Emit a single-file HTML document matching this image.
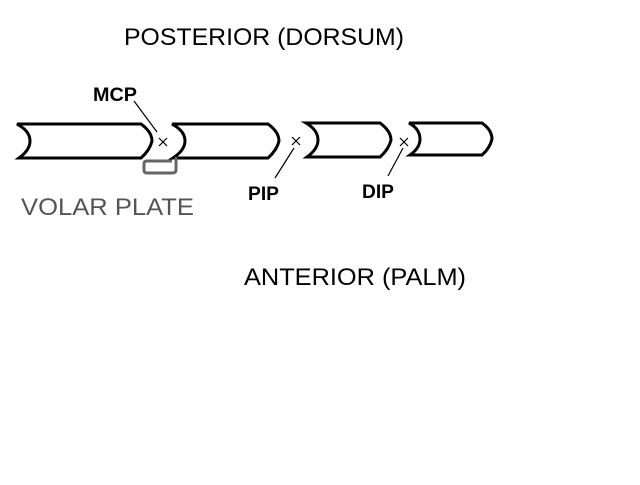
<!DOCTYPE html>
<html><head><style>
body{margin:0;width:640px;height:480px;background:#fff;overflow:hidden}
</style></head><body>
<svg width="640" height="480" xmlns="http://www.w3.org/2000/svg" font-family="Liberation Sans, Arial, sans-serif">
<rect width="640" height="480" fill="#fff"/>
<text x="124" y="45" font-size="24" textLength="280" lengthAdjust="spacingAndGlyphs">POSTERIOR (DORSUM)</text>
<text x="244" y="285" font-size="24" textLength="222" lengthAdjust="spacingAndGlyphs">ANTERIOR (PALM)</text>
<text x="21" y="215" font-size="24" fill="#555" textLength="173" lengthAdjust="spacingAndGlyphs">VOLAR PLATE</text>
<text x="93" y="101" font-size="19" font-weight="bold" textLength="44" lengthAdjust="spacingAndGlyphs">MCP</text>
<text x="248" y="200" font-size="19" font-weight="bold" textLength="31" lengthAdjust="spacingAndGlyphs">PIP</text>
<text x="362" y="198" font-size="19" font-weight="bold" textLength="32" lengthAdjust="spacingAndGlyphs">DIP</text>
<g fill="none" stroke="#000" stroke-width="3">
<path d="M17,124 L141,124 Q152,132 152,141 Q150,150 141,158 L19,158 Q30,150 30,141 Q30,131 17,124 Z"/>
<path d="M172,124 L268,124 Q279,132 279,141 Q277,150 268,158 L173,158 Q185,150 185,141 Q185,131 172,124 Z"/>
<path d="M306,123 L380,123 Q391,131 391,140 Q389,149 380,157 L307,157 Q318,149 318,140 Q318,130 306,123 Z"/>
<path d="M409,123 L482,123 Q492,130 492,139 Q490,148 482,155 L410,155 Q420,148 420,139 Q420,129 409,123 Z"/>
</g>
<g stroke="#000" stroke-width="1.2">
<line x1="159" y1="138" x2="167" y2="146"/><line x1="167" y1="138" x2="159" y2="146"/>
<line x1="292" y1="137" x2="300" y2="145"/><line x1="300" y1="137" x2="292" y2="145"/>
<line x1="400" y1="138" x2="408" y2="146"/><line x1="408" y1="138" x2="400" y2="146"/>
<line x1="134" y1="101" x2="157" y2="132"/>
<line x1="294" y1="148" x2="275" y2="178"/>
<line x1="403" y1="148" x2="388" y2="176"/>
</g>
<path d="M176,157 L176,170 Q176,173 172,173 L147,173 Q144,173 144,170 L144,164 Q144,161 147,161 L172,161" fill="none" stroke="#666" stroke-width="3"/>
</svg>
</body></html>
